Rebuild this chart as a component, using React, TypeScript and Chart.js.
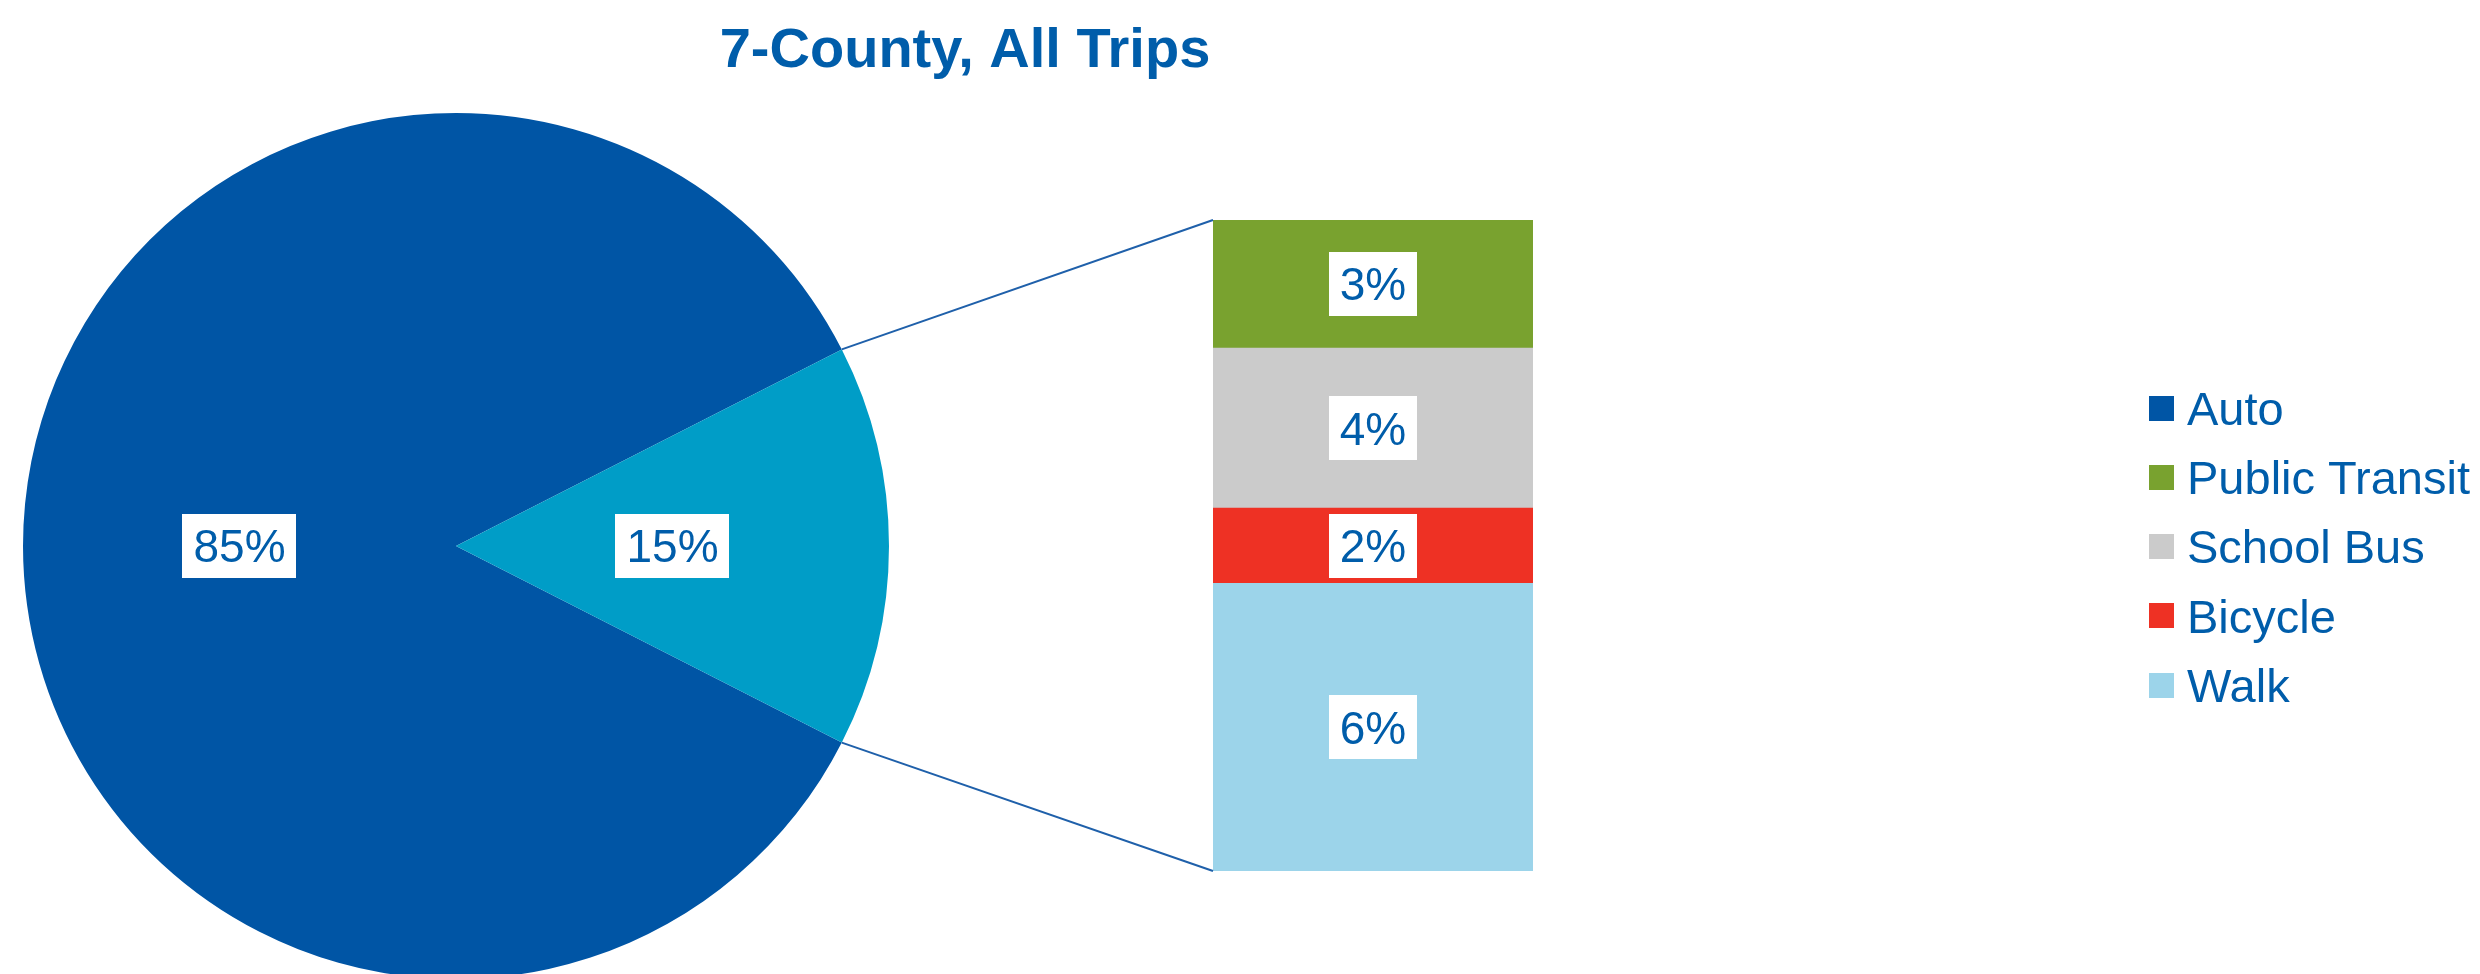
import React, { useEffect, useRef } from "react";
import { Chart, registerables } from "chart.js";

Chart.register(...registerables);

// ---------- Data ----------
const titleText = "7-County, All Trips";

const pieLabels = ["Auto", "Other"];
const pieValues = [85, 15];
const pieLabelText = ["85%", "15%"];

const barCategories = ["Other modes"];
const barSeriesNames = ["Walk", "Bicycle", "School Bus", "Public Transit"]; // bottom -> top
const walkValues = [6.63];
const bicycleValues = [1.73];
const schoolBusValues = [3.69];
const publicTransitValues = [2.95];
const barLabelText = ["6%", "2%", "4%", "3%"];

const legendNames = ["Auto", "Public Transit", "School Bus", "Bicycle", "Walk"];

// ---------- Styles ----------
const COLORS: Record<string, string> = {
  Auto: "#0055A5",
  Other: "#009DC7",
  "Public Transit": "#79A22F",
  "School Bus": "#CBCBCB",
  Bicycle: "#EE3124",
  Walk: "#9CD4EA",
};
const TEXT_COLOR = "#005DAA";
const LINE_COLOR = "#1F60AA";
const FONT = "'Liberation Sans', Arial, Helvetica, sans-serif";

const W = 2480;
const H = 974;

function drawBoxLabel(ctx: CanvasRenderingContext2D, text: string, cx: number, cy: number) {
  const size = 46;
  ctx.save();
  ctx.font = `${size}px ${FONT}`;
  const tw = ctx.measureText(text).width;
  const padX = 11;
  const bh = 64;
  const bw = tw + padX * 2;
  ctx.fillStyle = "#FFFFFF";
  ctx.fillRect(Math.round(cx - bw / 2), Math.round(cy - bh / 2), Math.round(bw), bh);
  ctx.fillStyle = TEXT_COLOR;
  ctx.textAlign = "center";
  ctx.textBaseline = "alphabetic";
  ctx.fillText(text, cx, cy + size * 0.358);
  ctx.restore();
}

export default function App() {
  const pieRef = useRef<HTMLCanvasElement | null>(null);
  const barRef = useRef<HTMLCanvasElement | null>(null);

  useEffect(() => {
    document.body.style.margin = "0";
    document.body.style.overflow = "hidden";
    if (!pieRef.current || !barRef.current) return;

    const pieLabelPlugin = {
      id: "pieLabels",
      afterDatasetsDraw(chart: any) {
        const ctx = chart.ctx;
        const meta = chart.getDatasetMeta(0);
        meta.data.forEach((arc: any, i: number) => {
          const p = arc.tooltipPosition();
          drawBoxLabel(ctx, pieLabelText[i], p.x, p.y);
        });
      },
    };

    const pieChart = new Chart(pieRef.current, {
      type: "pie",
      data: {
        labels: pieLabels,
        datasets: [
          {
            data: pieValues,
            backgroundColor: pieLabels.map((l) => COLORS[l]),
            borderWidth: 0,
            hoverOffset: 0,
            offset: 0,
          } as any,
        ],
      },
      options: {
        responsive: false,
        animation: false,
        devicePixelRatio: 1,
        events: [],
        rotation: 117,
        radius: 433,
        layout: { padding: { left: 23, right: 1591, top: 120, bottom: 2 } },
        plugins: {
          legend: { display: false },
          tooltip: { enabled: false },
          title: { display: false },
        },
      } as any,
      plugins: [pieLabelPlugin],
    });

    const seriesValues = [walkValues, bicycleValues, schoolBusValues, publicTransitValues];
    const total = seriesValues.reduce((s, arr) => s + arr[0], 0);

    const barLabelPlugin = {
      id: "barLabels",
      afterDatasetsDraw(chart: any) {
        const ctx = chart.ctx;
        chart.data.datasets.forEach((_: any, i: number) => {
          const el = chart.getDatasetMeta(i).data[0];
          if (!el) return;
          const cy = (el.y + el.base) / 2;
          drawBoxLabel(ctx, barLabelText[i], el.x, cy);
        });
      },
    };

    const connectorPlugin = {
      id: "connectors",
      afterDatasetsDraw(chart: any) {
        const ctx = chart.ctx;
        const arc: any = pieChart.getDatasetMeta(0).data[1];
        if (!arc) return;
        const { x, y, startAngle, endAngle, outerRadius } = arc.getProps(
          ["x", "y", "startAngle", "endAngle", "outerRadius"],
          true
        );
        const n = chart.data.datasets.length;
        const topEl: any = chart.getDatasetMeta(n - 1).data[0];
        const botEl: any = chart.getDatasetMeta(0).data[0];
        const left = topEl.x - topEl.width / 2;
        ctx.save();
        ctx.strokeStyle = LINE_COLOR;
        ctx.lineWidth = 2;
        ctx.beginPath();
        ctx.moveTo(x + outerRadius * Math.cos(startAngle), y + outerRadius * Math.sin(startAngle));
        ctx.lineTo(left, topEl.y);
        ctx.moveTo(x + outerRadius * Math.cos(endAngle), y + outerRadius * Math.sin(endAngle));
        ctx.lineTo(left, botEl.base);
        ctx.stroke();
        ctx.restore();
      },
    };

    const decorPlugin = {
      id: "decor",
      afterDraw(chart: any) {
        const ctx = chart.ctx;
        ctx.save();
        // Title
        ctx.font = `bold 56px ${FONT}`;
        ctx.fillStyle = TEXT_COLOR;
        ctx.textAlign = "center";
        ctx.textBaseline = "alphabetic";
        ctx.fillText(titleText, 965, 67);
        // Legend
        const size = 47;
        ctx.font = `${size}px ${FONT}`;
        ctx.textAlign = "left";
        legendNames.forEach((name, i) => {
          const cy = 408 + i * 69.25;
          ctx.fillStyle = COLORS[name];
          ctx.fillRect(2149, Math.round(cy - 12.5), 25, 25);
          ctx.fillStyle = TEXT_COLOR;
          ctx.fillText(name, 2187, cy + size * 0.358);
        });
        ctx.restore();
      },
    };

    const barChart = new Chart(barRef.current, {
      type: "bar",
      data: {
        labels: barCategories,
        datasets: barSeriesNames.map((name, i) => ({
          label: name,
          data: seriesValues[i],
          backgroundColor: COLORS[name],
          borderWidth: 0,
          barPercentage: 1,
          categoryPercentage: 1,
        })),
      },
      options: {
        responsive: false,
        animation: false,
        devicePixelRatio: 1,
        events: [],
        layout: { padding: { left: 1213, right: W - 1533, top: 220, bottom: H - 871 } },
        scales: {
          x: { stacked: true, display: false },
          y: { stacked: true, display: false, min: 0, max: total },
        },
        plugins: {
          legend: { display: false },
          tooltip: { enabled: false },
          title: { display: false },
        },
      } as any,
      plugins: [connectorPlugin, barLabelPlugin, decorPlugin],
    });

    return () => {
      barChart.destroy();
      pieChart.destroy();
    };
  }, []);

  return (
    <div style={{ position: "relative", width: W, height: H, overflow: "hidden", background: "#FFFFFF" }}>
      <canvas
        ref={pieRef}
        width={W}
        height={H}
        style={{ position: "absolute", left: 0, top: 0, width: W, height: H }}
      />
      <canvas
        ref={barRef}
        width={W}
        height={H}
        style={{ position: "absolute", left: 0, top: 0, width: W, height: H }}
      />
    </div>
  );
}
